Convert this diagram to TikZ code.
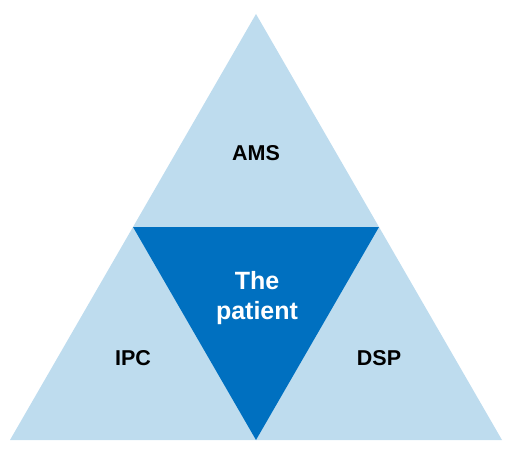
\documentclass[tikz,border=0pt]{standalone}
\usepackage{fontspec}
\setmainfont{Liberation Sans}
\definecolor{tri_light}{RGB}{190, 220, 238}
\definecolor{tri_dark}{RGB}{0, 112, 192}
\usetikzlibrary{positioning}

\begin{document}
\begin{tikzpicture}[
        x=1pt, y=-1pt,
        lbl/.style={font=\fontsize{21.5}{25}\selectfont\bfseries, align=center},
        big/.style={font=\fontsize{25}{30}\selectfont\bfseries, align=center, white},
      ]
        \useasboundingbox (0,0) rectangle (512,452);

        \coordinate (top) at (256, 14);
        \coordinate (bl)  at (10, 440);
        \coordinate (br)  at (502, 440);
        \coordinate (ml)  at (133, 227);
        \coordinate (mr)  at (379, 227);
        \coordinate (mb)  at (256, 440);

        \fill[tri_light] (top) -- (bl) -- (br) -- cycle;
        \fill[tri_dark] (ml) -- (mr) -- (mb) -- cycle;

        \node[lbl] (ams) at (256, 153) {AMS};
        \node[big] (patient) at (257, 298) {The\\patient};
        \node[lbl] (ipc) at (133, 358) {IPC};
        \node[lbl] (dsp) at (379, 358) {DSP};
      \end{tikzpicture}
\end{document}
